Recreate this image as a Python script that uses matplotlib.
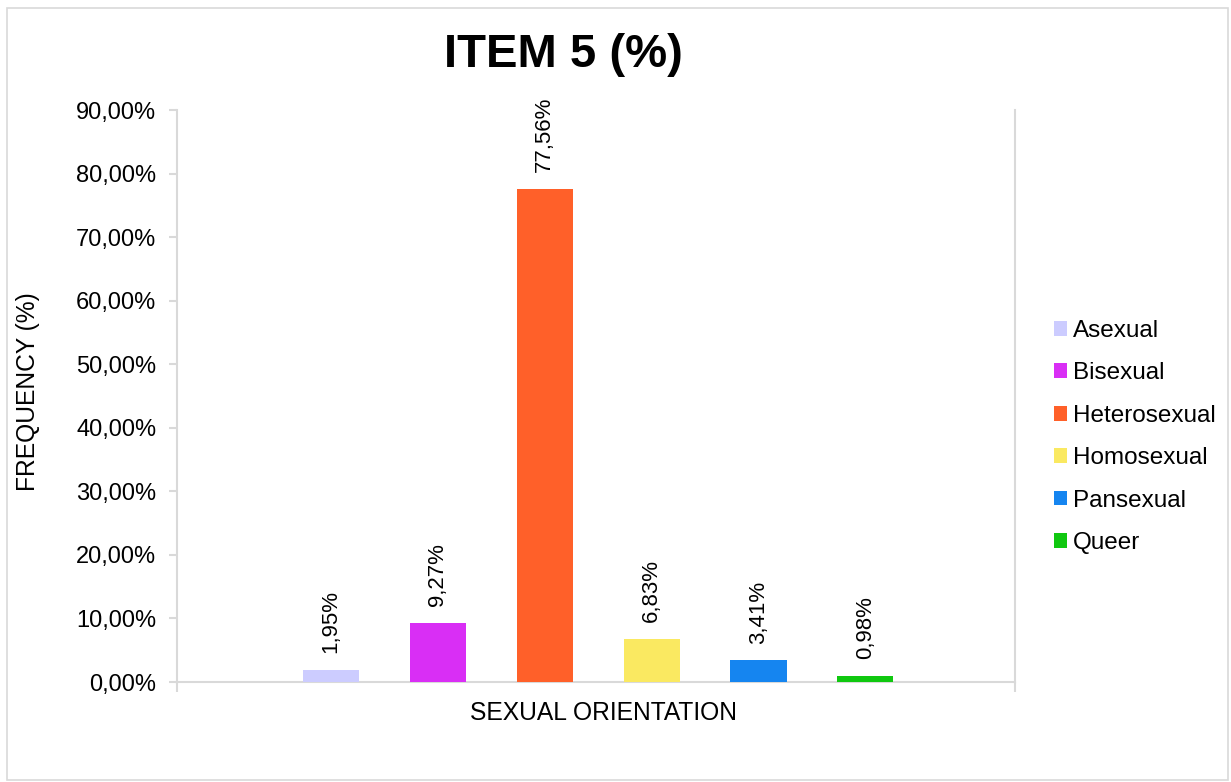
import matplotlib.pyplot as plt
from matplotlib.patches import Rectangle

plt.rcParams['font.family'] = ['Liberation Sans', 'DejaVu Sans']

categories = ['Asexual', 'Bisexual', 'Heterosexual', 'Homosexual', 'Pansexual', 'Queer']
values = [1.95, 9.27, 77.56, 6.83, 3.41, 0.98]
colors = ['#CCCCFF', '#D92EF5', '#FF6029', '#FAE961', '#1585F0', '#10C810']
yticks = [0, 10, 20, 30, 40, 50, 60, 70, 80, 90]

fig = plt.figure(figsize=(12.31, 7.82), dpi=100)
ax = fig.add_axes([177 / 1231, 1 - 682 / 782, (1015 - 177) / 1231, (682 - 110) / 782])

# outer chart border
fig.patches.append(Rectangle((7 / 1231, 2 / 782), 1221 / 1231, 772 / 782,
                             transform=fig.transFigure, fill=False,
                             edgecolor='#D9D9D9', linewidth=1.2))

xs = list(range(len(values)))
bars = ax.bar(xs, values, width=0.525, color=colors, label=categories, zorder=3)

def fmt(v):
    return ('%.2f%%' % v).replace('.', ',')

for x, v in zip(xs, values):
    ax.annotate(fmt(v), (x, v), xytext=(0, 12), textcoords='offset points',
                rotation=90, ha='center', va='bottom', fontsize=16)

ax.set_xlim(-1.44, 6.40)
ax.set_ylim(0, 90)
ax.set_yticks(yticks)
ax.set_yticklabels([fmt(t) for t in yticks], fontsize=17)
ax.set_xticks([-1.44, 6.40])
ax.set_xticklabels(['', ''])

for side in ['left', 'bottom', 'right']:
    ax.spines[side].set_color('#D9D9D9')
    ax.spines[side].set_linewidth(1.5)
ax.spines['top'].set_visible(False)
ax.tick_params(axis='y', color='#D9D9D9', length=6, width=1.5, pad=9)
ax.tick_params(axis='x', color='#D9D9D9', length=7, width=1.5)

fig.text(563 / 1231, 1 - 55 / 782, 'ITEM 5 (%)', fontsize=34, fontweight='bold',
         ha='center', va='center')
fig.text(604 / 1231, 1 - 713 / 782, 'SEXUAL ORIENTATION', fontsize=17.7,
         ha='center', va='center')
fig.text(28 / 1231, 1 - 392 / 782, 'FREQUENCY (%)', fontsize=17.7, rotation=90,
         ha='center', va='center')

fig.legend(handles=bars, labels=categories, loc='center left',
           bbox_to_anchor=(1032 / 1231, 1 - 437 / 782), frameon=False,
           fontsize=17.5, handlelength=0.55, handleheight=0.55, handletextpad=0.22,
           labelspacing=0.84)

fig.savefig('out.png', dpi=100)
